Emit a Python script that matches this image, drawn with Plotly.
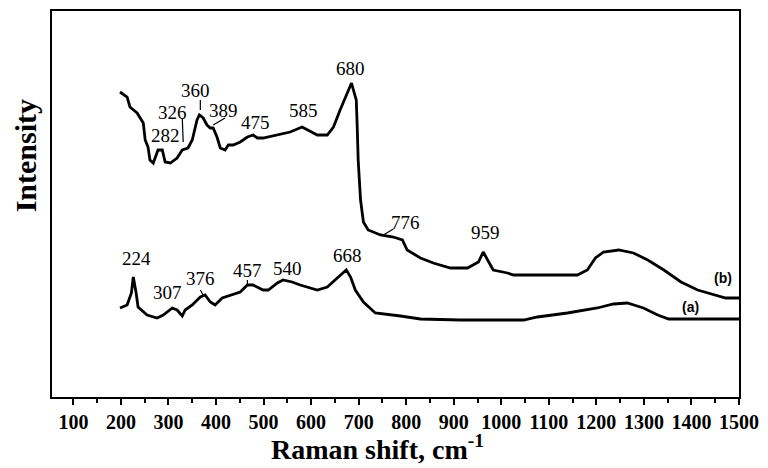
import plotly.graph_objects as go

# Curve (b)
b_x = [198, 213, 219, 234, 247, 251, 257, 261, 268, 278, 287, 293, 304, 318, 329, 341, 350, 360, 365, 373,
       381, 388, 394, 402, 409, 419, 426, 436, 451, 466, 478, 487, 499, 529, 556, 581, 592, 613, 634, 647,
       661, 676, 685, 689, 695, 697, 699, 704, 710, 720, 735, 746, 773, 792, 802, 830, 857, 893, 929, 952,
       962, 971, 983, 1013, 1026, 1097, 1160, 1181, 1198, 1215, 1247, 1278, 1308, 1342, 1378, 1413, 1447, 1472, 1500]
b_y = [305, 300, 290, 284, 274, 257, 250, 237, 234, 247, 247, 235, 234, 239, 247, 249, 257, 277, 282, 279,
       272, 269, 269, 260, 249, 247, 252, 252, 255, 260, 262, 259, 259, 262, 265, 270, 267, 262, 262, 270,
       287, 304, 314, 307, 297, 270, 237, 197, 175, 167, 164, 162, 160, 157, 147, 139, 134, 129, 129, 135,
       145, 137, 127, 124, 122, 122, 122, 127, 139, 145, 147, 144, 137, 127, 115, 107, 102, 99, 99]

# Curve (a)
a_x = [198, 213, 222, 226, 232, 236, 255, 276, 289, 308, 318, 329, 335, 350, 367, 377, 388, 398, 413, 430,
       451, 466, 478, 499, 510, 529, 541, 560, 577, 613, 634, 655, 674, 683, 693, 710, 735, 788, 830, 914,
       1047, 1076, 1139, 1202, 1236, 1265, 1299, 1329, 1352, 1500]
a_y = [89, 92, 104, 120, 104, 90, 82, 79, 82, 89, 87, 81, 87, 92, 100, 102, 95, 92, 99, 102,
       105, 112, 112, 107, 107, 114, 117, 115, 112, 107, 110, 119, 127, 120, 107, 95, 84, 81, 78, 77,
       77, 80, 84, 89, 93, 94, 89, 82, 78, 78]

# Peak labels
label_text = ["680", "360", "326", "389", "282", "475", "585", "776", "959",
              "224", "307", "376", "457", "540", "668"]
label_x = [682, 356, 308, 415, 293, 482, 583, 798, 966,
           232, 297, 367, 466, 550, 676]
label_y = [329, 307, 285, 287, 262, 275, 287, 175, 165,
           139, 105, 119, 127, 129, 142]

# Curve tags
tag_text = ["(b)", "(a)"]
tag_x = [1467, 1398]
tag_y = [119, 90]

# Leader lines (x0, y0, x1, y1)
leaders = [(329, 279, 331, 255), (367, 297, 367, 287), (419, 279, 394, 272),
           (367, 107, 373, 102), (466, 117, 466, 112), (752, 162, 773, 168)]

tick_vals = list(range(100, 1501, 100))

x_title = "<b>Raman shift, cm<sup>-1</sup></b>"
y_title = "<b>Intensity</b>"

serif = "Liberation Serif"

fig = go.Figure()
fig.add_trace(go.Scatter(x=b_x, y=b_y, mode="lines", line=dict(color="black", width=2.8), showlegend=False))
fig.add_trace(go.Scatter(x=a_x, y=a_y, mode="lines", line=dict(color="black", width=2.8), showlegend=False))

for t, x, y in zip(label_text, label_x, label_y):
    fig.add_annotation(x=x, y=y, text=t, showarrow=False,
                       font=dict(family=serif, size=19, color="black"))
for t, x, y in zip(tag_text, tag_x, tag_y):
    fig.add_annotation(x=x, y=y, text=f"<b>{t}</b>", showarrow=False,
                       font=dict(family="Liberation Sans", size=14, color="black"))

for x0, y0, x1, y1 in leaders:
    fig.add_shape(type="line", x0=x0, y0=y0, x1=x1, y1=y1, line=dict(color="black", width=1.2))

# axis titles placed as in the reference
fig.add_annotation(xref="paper", yref="paper", x=0.4745, y=-0.13, xanchor="center", yanchor="middle",
                   text=x_title, showarrow=False, font=dict(family=serif, size=28, color="black"))
fig.add_annotation(xref="paper", yref="paper", x=-0.039, y=0.624, xanchor="center", yanchor="middle",
                   text=y_title, textangle=-90, showarrow=False, font=dict(family=serif, size=30, color="black"))

# the page body adds an 8px offset, so the figure is 760x460 with margins set accordingly
fig.update_layout(
    width=760, height=460,
    margin=dict(l=44, r=29, t=3, b=71),
    paper_bgcolor="white", plot_bgcolor="white",
    font=dict(family=serif, color="black"),
    xaxis=dict(range=[55, 1500], tickmode="array", tickvals=tick_vals,
               ticktext=[f"<b>{v}</b>" for v in tick_vals],
               ticks="outside", ticklen=6, tickwidth=2, tickcolor="black",
               minor=dict(ticks="outside", ticklen=4, tickwidth=1.5, tickcolor="black", dtick=50, tick0=50),
               showline=True, linewidth=2, linecolor="black", mirror=True, showgrid=False, zeroline=False,
               automargin=False,
               tickfont=dict(family=serif, size=20, color="black")),
    yaxis=dict(range=[0, 386], showticklabels=False, ticks="", showline=True, linewidth=2,
               linecolor="black", mirror=True, showgrid=False, zeroline=False, automargin=False),
)

fig.write_html("out.html")
